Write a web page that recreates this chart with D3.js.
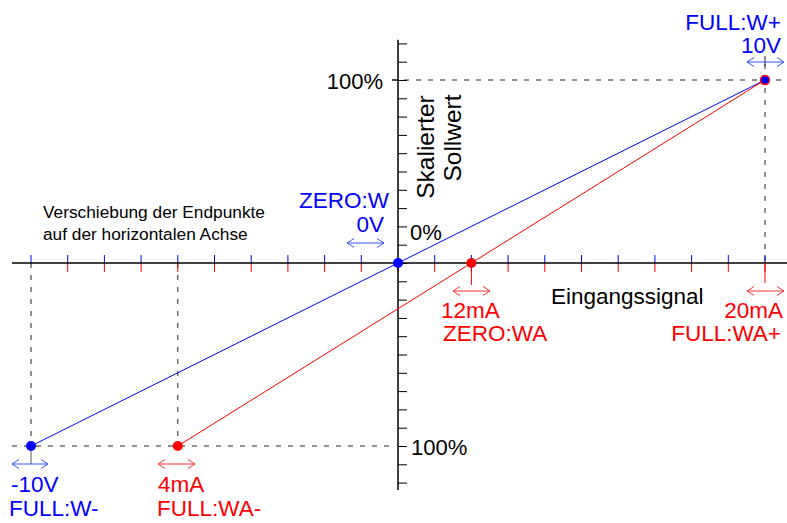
<!DOCTYPE html>
<html><head><meta charset="utf-8">
<script src="https://cdn.jsdelivr.net/npm/d3@7"></script>
<style>body{margin:0;background:#fff}svg{display:block}text{font-family:"Liberation Sans",Arial,sans-serif}</style>
</head><body><svg id="c" width="787" height="523"></svg>
<script>
// ---- data ----
const voltTicks = [-10,-9,-8,-7,-6,-5,-4,-3,-2,-1,0,1,2,3,4,5,6,7,8,9,10];
const mATicks = [1,2,3,4,5,6,7,8,9,10,11,12,13,14,15,16,17,18,19,20];
const pctTicks = [-120,-110,-100,-90,-80,-70,-60,-50,-40,-30,-20,-10,0,10,20,30,40,50,60,70,80,90,100,110,120];
const blueVolts = [-10, 0, 10];
const bluePct = [-100, 0, 100];
const redmA = [4, 12, 20];
const redPct = [-100, 0, 100];

const BLUE = "#0000ff", RED = "#ff0000";
const svg = d3.select("#c");
const xV = d3.scaleLinear().domain([-10, 10]).range([31, 765]);
const xA = d3.scaleLinear().domain([0, 20]).range([31, 765]);
const y = d3.scaleLinear().domain([-100, 100]).range([446, 80]);
const x0 = xV(0), y0 = y(0);

// dashed guides
const dash = svg.append("g").attr("stroke", "#222").attr("stroke-width", 1).attr("stroke-dasharray", "5,7");
dash.append("line").attr("x1", 12).attr("x2", x0 - 8).attr("y1", y(-100)).attr("y2", y(-100));
dash.append("line").attr("x1", x0 - 6).attr("x2", 787).attr("y1", y(100)).attr("y2", y(100));
dash.append("line").attr("x1", xV(-10)).attr("x2", xV(-10)).attr("y1", y0).attr("y2", y(-100));
dash.append("line").attr("x1", xA(4)).attr("x2", xA(4)).attr("y1", y0).attr("y2", y(-100));
dash.append("line").attr("x1", xV(10)).attr("x2", xV(10)).attr("y1", 64).attr("y2", y0);

// horizontal axis ticks
svg.append("g").selectAll("line").data(voltTicks.filter(d => d !== 0)).join("line")
  .attr("x1", d => xV(d)).attr("x2", d => xV(d)).attr("y1", y0 - 8).attr("y2", y0)
  .attr("stroke", BLUE).attr("stroke-width", 1);
svg.append("g").selectAll("line").data(mATicks).join("line")
  .attr("x1", d => xA(d)).attr("x2", d => xA(d)).attr("y1", y0).attr("y2", y0 + 9)
  .attr("stroke", RED).attr("stroke-width", 1);

// vertical axis with ticks
const yAxisScale = d3.scaleLinear().domain([-125, 125]).range([y(-125), y(125)]);
const yAx = svg.append("g").attr("transform", `translate(${x0},0)`)
  .call(d3.axisRight(yAxisScale).tickValues(pctTicks).tickSize(9).tickFormat("").tickSizeOuter(0));
yAx.select(".domain").attr("d", `M0,${y(122)}V${y(-124)}`).attr("stroke", "#000").attr("stroke-width", 1.5);
yAx.selectAll(".tick line").attr("stroke", "#000");
svg.append("line").attr("x1", x0 - 6).attr("x2", x0).attr("y1", y(100)).attr("y2", y(100)).attr("stroke", "#000");

// horizontal axis line
svg.append("line").attr("x1", 12).attr("x2", 787).attr("y1", y0).attr("y2", y0).attr("stroke", "#000").attr("stroke-width", 1.5);

// connectors
svg.append("line").attr("x1", xV(-10)).attr("x2", xV(-10)).attr("y1", y(-100)).attr("y2", 464).attr("stroke", "#555");
svg.append("line").attr("x1", xA(12)).attr("x2", xA(12)).attr("y1", y0).attr("y2", 285).attr("stroke", RED);
svg.append("line").attr("x1", xA(20)).attr("x2", xA(20)).attr("y1", y0).attr("y2", 283).attr("stroke", RED);
svg.append("line").attr("x1", xV(10)).attr("x2", xV(10)).attr("y1", 56).attr("y2", 66).attr("stroke", "#222");

// series lines
const blueData = blueVolts.map((v, i) => [xV(v), y(bluePct[i])]);
const redData = redmA.map((v, i) => [xA(v), y(redPct[i])]);
svg.append("path").attr("d", d3.line()(blueData)).attr("fill", "none").attr("stroke", BLUE).attr("stroke-width", 1);
svg.append("path").attr("d", d3.line()(redData)).attr("fill", "none").attr("stroke", RED).attr("stroke-width", 1);

// points
svg.append("g").selectAll("circle").data(redData.slice(0, 2)).join("circle")
  .attr("cx", d => d[0]).attr("cy", d => d[1]).attr("r", 5).attr("fill", RED);
svg.append("g").selectAll("circle").data(blueData.slice(0, 2)).join("circle")
  .attr("cx", d => d[0]).attr("cy", d => d[1]).attr("r", 5).attr("fill", BLUE);
svg.append("circle").attr("cx", blueData[2][0]).attr("cy", blueData[2][1]).attr("r", 4.5)
  .attr("fill", BLUE).attr("stroke", RED).attr("stroke-width", 1.5);

// double arrows
function arrow(xa, xb, yy, col) {
  const h = 7, w = 4.5;
  svg.append("path")
    .attr("d", `M${xa},${yy}H${xb}M${xa + h},${yy - w}L${xa},${yy}L${xa + h},${yy + w}M${xb - h},${yy - w}L${xb},${yy}L${xb - h},${yy + w}`)
    .attr("fill", "none").attr("stroke", col).attr("stroke-width", 1);
}
arrow(747, 784, 62, "#3355ff");
arrow(347, 384, 243, "#3355ff");
arrow(453, 490, 291, "#ff3333");
arrow(747, 784, 291, "#ff3333");
arrow(12, 48, 464, "#3355ff");
arrow(158, 195, 464, "#ff3333");

// texts
function txt(s, x, yy, col, size, anchor, rot) {
  svg.append("text").attr("transform", `translate(${x},${yy})` + (rot ? ` rotate(${rot})` : ""))
    .attr("fill", col).attr("font-size", size).attr("text-anchor", anchor || "start").text(s);
}
txt("FULL:W+", 781, 30, BLUE, 22.5, "end");
txt("10V", 781, 53, BLUE, 22.5, "end");
txt("100%", 383, 89, "#000", 22, "end");
txt("Skalierter", 434, 147, "#000", 24.5, "middle", -90);
txt("Sollwert", 461, 138, "#000", 24.5, "middle", -90);
txt("ZERO:W", 389, 208, BLUE, 22.5, "end");
txt("0V", 384, 232, BLUE, 22.5, "end");
txt("0%", 410, 240, "#000", 22, "start");
txt("Verschiebung der Endpunkte", 43, 218, "#000", 17.3);
txt("auf der horizontalen Achse", 43, 240, "#000", 17.3);
txt("Eingangssignal", 551, 304, "#000", 22.5);
txt("12mA", 441, 318, RED, 22.5);
txt("ZERO:WA", 443, 341, RED, 22.5);
txt("20mA", 783, 318, RED, 22.5, "end");
txt("FULL:WA+", 781, 341, RED, 22.5, "end");
txt("100%", 411, 455, "#000", 22);
txt("-10V", 11, 492, BLUE, 22.5);
txt("FULL:W-", 9, 516, BLUE, 22.5);
txt("4mA", 158, 492, RED, 22.5);
txt("FULL:WA-", 157, 516, RED, 22.5);
</script></body></html>
